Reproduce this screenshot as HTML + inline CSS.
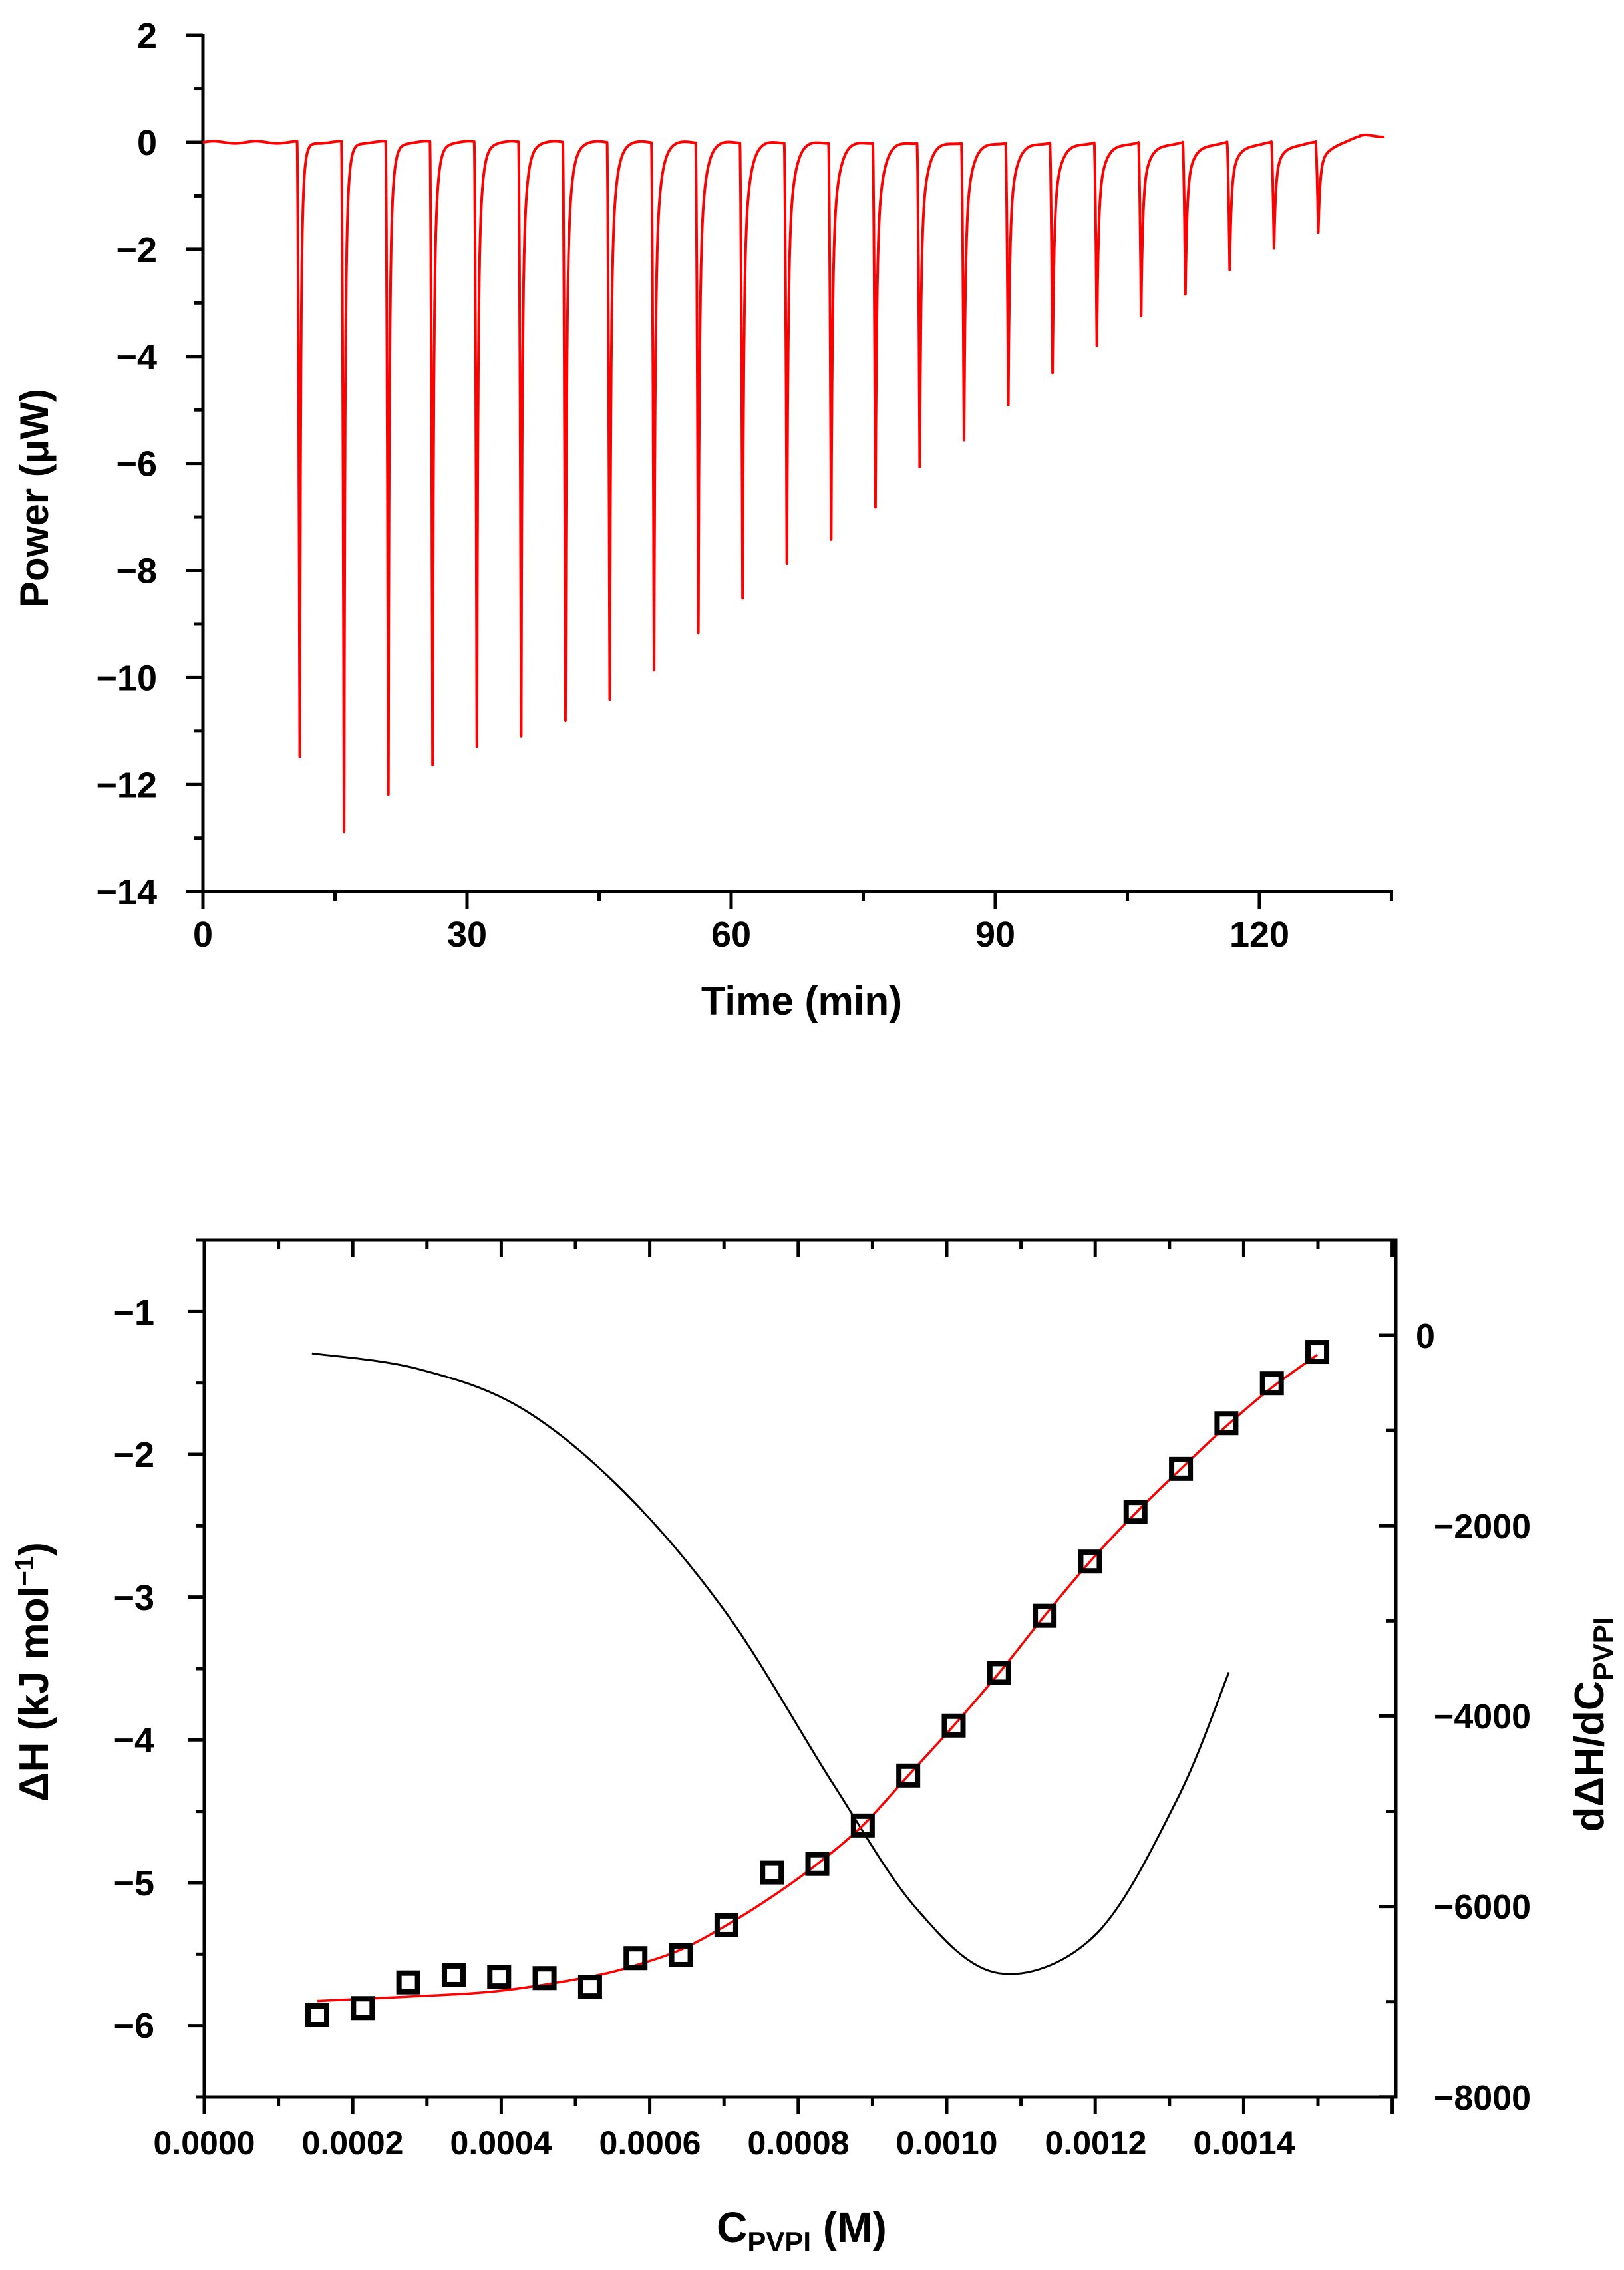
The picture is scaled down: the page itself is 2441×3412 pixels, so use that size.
<!DOCTYPE html>
<html><head><meta charset="utf-8">
<style>
html,body{margin:0;padding:0;background:#fff;}
svg{display:block;}
text{font-family:"Liberation Sans",Arial,sans-serif;font-weight:bold;fill:#000;}
</style></head>
<body>
<svg id="s" width="2441" height="3412" viewBox="0 0 2441 3412" xmlns="http://www.w3.org/2000/svg">
<rect width="2441" height="3412" fill="#fff"/>
<g stroke="#000" stroke-width="5" fill="none">
  <line x1="305" y1="51" x2="305" y2="1342"/>
  <line x1="280" y1="1340" x2="2094" y2="1340"/>
  <line x1="280" y1="53" x2="305" y2="53"/>
</g>
<g id="topticks" stroke="#000" stroke-width="5"></g>
<g font-size="54" text-anchor="end" id="toplabels"></g>
<g font-size="54" text-anchor="middle">
  <text x="305" y="1423">0</text><text x="702" y="1423">30</text><text x="1099" y="1423">60</text>
  <text x="1496" y="1423">90</text><text x="1893" y="1423">120</text>
</g>
<text x="1205" y="1525" font-size="60" text-anchor="middle">Time (min)</text>
<text transform="translate(72,749) rotate(-90)" font-size="60" text-anchor="middle">Power (μW)</text>
<path id="itc" fill="none" stroke="#ff0000" stroke-width="4" stroke-linejoin="round"/>

<g stroke="#000" stroke-width="5" fill="none">
  <rect x="307" y="1864" width="1791" height="1288"/>
</g>
<g id="botticks" stroke="#000" stroke-width="5"></g>
<g font-size="54" text-anchor="end">
  <text x="232" y="1991">−1</text><text x="232" y="2205">−2</text><text x="232" y="2420">−3</text>
  <text x="232" y="2634">−4</text><text x="232" y="2849">−5</text><text x="232" y="3063">−6</text>
</g>
<g font-size="52" text-anchor="start">
  <text x="2128" y="2026">0</text><text x="2155" y="2312">−2000</text><text x="2155" y="2598">−4000</text>
  <text x="2155" y="2884">−6000</text><text x="2155" y="3171">−8000</text>
</g>
<g font-size="50" text-anchor="middle">
  <text x="307" y="3238">0.0000</text><text x="530" y="3238">0.0002</text><text x="753" y="3238">0.0004</text>
  <text x="977" y="3238">0.0006</text><text x="1200" y="3238">0.0008</text><text x="1423" y="3238">0.0010</text>
  <text x="1647" y="3238">0.0012</text><text x="1870" y="3238">0.0014</text>
</g>
<text x="1205" y="3370" font-size="64" text-anchor="middle">C<tspan font-size="42" dy="14">PVPI</tspan><tspan dy="-14"> (M)</tspan></text>
<text transform="translate(72,2513) rotate(-90)" font-size="62" text-anchor="middle">ΔH (kJ mol<tspan font-size="40" dy="-22">−1</tspan><tspan dy="22">)</tspan></text>
<text transform="translate(2410,2592) rotate(-90)" font-size="62" text-anchor="middle">dΔH/dC<tspan font-size="42" dy="14">PVPI</tspan></text>

<path id="deriv" fill="none" stroke="#000" stroke-width="3"/>
<path id="fit" fill="none" stroke="#ff0000" stroke-width="3.5"/>
<g id="pts" fill="none" stroke="#000" stroke-width="8"></g>
</svg>
<script>
(function(){
var NS="http://www.w3.org/2000/svg";
function ln(g,x1,y1,x2,y2){var l=document.createElementNS(NS,"line");l.setAttribute("x1",x1);l.setAttribute("y1",y1);l.setAttribute("x2",x2);l.setAttribute("y2",y2);g.appendChild(l);}
var X=function(t){return 305+t*13.233;}, Y=function(v){return 214-v*80.44;};
var tt=document.getElementById("topticks"), tl=document.getElementById("toplabels");
for(var v=2;v>=-14;v--){var maj=(v%2===0);ln(tt,maj?280:292,Y(v),305,Y(v));
 if(maj){var t=document.createElementNS(NS,"text");t.setAttribute("x","236");t.setAttribute("y",Y(v)+19);t.textContent=(v<0?"−":"")+Math.abs(v);tl.appendChild(t);}}
for(var m=0;m<=135;m+=15){var maj=(m%30===0);ln(tt,X(m),1340,X(m),maj?1366:1354);}
var D=[11.5,12.9,12.2,11.65,11.3,11.1,10.8,10.4,9.85,9.15,8.5,7.85,7.4,6.8,6.05,5.55,4.9,4.3,3.8,3.25,2.85,2.4,2.0,1.7];
var T0=[];for(var i=0;i<24;i++)T0.push(10.7+5.03*i);
var DESC=0.3;
function val(t){
 var v=0.02*Math.sin(t*1.3);
 if(t>128)v+=Math.min(0.12,(t-128)*0.03);
 for(var i=0;i<24;i++){var dt=t-T0[i];var tau2=0.3+0.035*i, tau1=0.1+0.004*i;
  if(dt>=0&&dt<DESC){v-=D[i]*Math.pow(dt/DESC,1.5);}
  else if(dt>=DESC&&dt<5){var e=dt-DESC;v-=D[i]*(0.7*Math.exp(-e/tau1)+0.3*Math.exp(-e/tau2));}}
 return v;}
var ts=[];for(var t=0;t<=134.2;t+=0.02)ts.push(t);
T0.forEach(function(a){ts.push(a+DESC);ts.push(a);});
ts.sort(function(a,b){return a-b;});
var d="";ts.forEach(function(t){d+=(d?"L":"M")+X(t).toFixed(1)+","+Y(val(t)).toFixed(1);});
document.getElementById("itc").setAttribute("d",d);

var bt=document.getElementById("botticks");
for(var k=0;k<=16;k++){var x=307+k*111.6;var maj=(k%2===0);
 ln(bt,x,3152,x,maj?3178:3166); ln(bt,x,1864,x,maj?1890:1878);}
for(var k=0;k<=12;k++){var y=1864+k*107.33;var maj=(k%2===1);ln(bt,maj?282:294,y,307,y);}
for(var k=-1;k<=8;k++){var y=2007+k*143.1;if(y<1866)continue;var maj=(k%2===0);ln(bt,2098,y,maj?2072:2084,y);}
var CX=function(c){return 307+c*1116000;}, HY=function(v){return 1972-(v+1)*214.4;}, RY=function(v){return 2007-v*0.1431;};
var IX=function(i){return 477+i*68.32;};
var PV=[-5.93,-5.88,-5.7,-5.65,-5.66,-5.67,-5.73,-5.53,-5.51,-5.3,-4.93,-4.87,-4.6,-4.25,-3.9,-3.53,-3.13,-2.75,-2.4,-2.1,-1.78,-1.5,-1.28];
var pg=document.getElementById("pts");
PV.forEach(function(v,i){var x=IX(i),y=HY(v);var r=document.createElementNS(NS,"rect");r.setAttribute("x",x-14);r.setAttribute("y",y-14);r.setAttribute("width",28);r.setAttribute("height",28);pg.appendChild(r);});
function spline(F){var s="M"+F[0][0].toFixed(1)+","+F[0][1].toFixed(1);
 for(var i=0;i<F.length-1;i++){var p0=F[Math.max(0,i-1)],p1=F[i],p2=F[i+1],p3=F[Math.min(F.length-1,i+2)];
 s+="C"+(p1[0]+(p2[0]-p0[0])/6).toFixed(1)+","+(p1[1]+(p2[1]-p0[1])/6).toFixed(1)+" "+(p2[0]-(p3[0]-p1[0])/6).toFixed(1)+","+(p2[1]-(p3[1]-p1[1])/6).toFixed(1)+" "+p2[0].toFixed(1)+","+p2[1].toFixed(1);}
 return s;}
var FI=[[0,-5.83],[2,-5.8],[4,-5.76],[6,-5.66],[7,-5.58],[8,-5.47],[9,-5.3],[10,-5.1],[11,-4.87],[12,-4.6],[13,-4.25],[14,-3.9],[15,-3.53],[16,-3.13],[17,-2.75],[18,-2.41],[19,-2.1],[20,-1.8],[21,-1.53],[22,-1.3]];
document.getElementById("fit").setAttribute("d",spline(FI.map(function(p){return [IX(p[0]),HY(p[1])];})));
var DV=[[0.000145,-190],[0.000286,-350],[0.000426,-760],[0.000566,-1650],[0.000706,-2950],[0.000846,-4700],[0.000959,-6020],[0.00107,-6700],[0.0012,-6300],[0.00131,-4880],[0.00138,-3540]];
document.getElementById("deriv").setAttribute("d",spline(DV.map(function(p){return [CX(p[0]),RY(p[1])];})));
})();
</script>
</body></html>
